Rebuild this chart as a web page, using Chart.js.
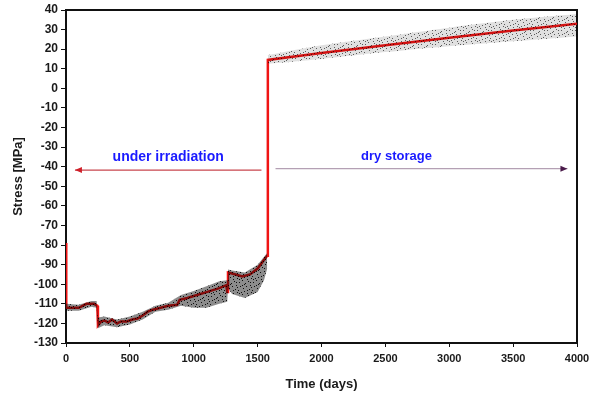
<!DOCTYPE html>
<html>
<head>
<meta charset="utf-8">
<script src="https://cdn.jsdelivr.net/npm/chart.js@4/dist/chart.umd.min.js"></script>
<style>
  html, body { margin: 0; padding: 0; background: #fff; }
  #wrap { width: 590px; height: 396px; }
</style>
</head>
<body>
<div id="wrap"><canvas id="stress-chart" width="590" height="396"></canvas></div>
<script>
// mean stress curve (days, MPa)
const redDays   = [0, 2, 100, 130, 160, 220, 245, 250, 275, 300, 330, 360, 400, 430, 475, 520, 560, 600, 640, 680, 740, 800, 870, 890, 950, 1000, 1100, 1200, 1255, 1262, 1268, 1300, 1380, 1440, 1500, 1545, 1575, 1580, 2000, 2500, 3000, 3500, 4000];
const redStress = [-79, -112, -112, -111, -110, -110, -111, -121, -119, -118.5, -119.5, -118, -120, -119, -119, -118, -117.5, -116, -114, -113, -112, -111, -110.5, -108, -107, -106, -104, -102, -100.5, -104, -94, -94.5, -96, -95, -92, -88, -85.5, 14.5, 18, 22, 25.8, 29.5, 33];

// spread of individual results during irradiation
const irrDays  = [0, 100, 200, 240, 250, 300, 400, 500, 600, 700, 800, 900, 1000, 1100, 1200, 1262, 1268, 1300, 1400, 1500, 1550, 1575];
const irrUpper = [-110, -110.5, -108.5, -108.5, -117, -116.5, -118, -116.5, -114, -111, -109.5, -105.5, -103.5, -101, -98.5, -98, -92.5, -93, -94, -90, -86, -84];
const irrLower = [-113.5, -113.5, -111.5, -112, -122.5, -121, -122, -120.5, -118, -114, -113, -111, -112, -112, -110, -109, -102, -105, -107, -104, -98, -92];

// spread of individual results in dry storage
const dryDays  = [1580, 2000, 2500, 3000, 3500, 4000];
const dryUpper = [17, 22, 26.5, 31, 35, 38];
const dryLower = [12.5, 15, 18.5, 21.5, 24, 26.5];

// phase arrows: label, start day, end day, level (MPa)
const phaseLabels = ['under irradiation', 'dry storage'];
const phaseFrom   = [1530, 1640];
const phaseTo     = [70, 3925];
const phaseLevel  = [-41.7, -41.0];

const xTicks = [0, 500, 1000, 1500, 2000, 2500, 3000, 3500, 4000];

const toPoints = (xs, ys) => xs.map((x, i) => ({ x: x, y: ys[i] }));

const ctx = document.getElementById('stress-chart').getContext('2d');

// small speckle tile used to texture the scatter bands
const speckleDots = [[1,2],[4,0],[7,3],[10,1],[12,5],[2,6],[5,8],[8,6],[11,9],[0,10],[3,12],[6,11],[9,13],[13,12],[6,4],[12,2],[1,13],[4,5],[9,10],[13,7]];
function speckle(base, dotColor) {
    const c = document.createElement('canvas');
    c.width = 14; c.height = 14;
    const g = c.getContext('2d');
    if (base) { g.fillStyle = base; g.fillRect(0, 0, 14, 14); }
    g.fillStyle = dotColor;
    speckleDots.forEach(function (d) { g.fillRect(d[0], d[1], 1, 1); });
    return ctx.createPattern(c, 'repeat');
}

const phaseArrows = {
    id: 'phaseArrows',
    beforeDatasetsDraw(chart) {
        // frame round the plot area, under the curves
        const a = chart.chartArea;
        const c = chart.ctx;
        c.save();
        c.strokeStyle = '#111';
        c.lineWidth = 2;
        c.strokeRect(a.left, a.top, a.right - a.left, a.bottom - a.top);
        c.restore();
    },
    afterDatasetsDraw(chart) {
        const xs = chart.scales.x, ys = chart.scales.y;
        const c = chart.ctx;
        const lineColors = ['#c8464e', '#b4a0b4'];
        const headColors = ['#d0202a', '#4a1a4a'];
        const sizes = [14, 13];
        const shift = [0, -25];
        c.save();
        phaseLabels.forEach(function (label, i) {
            const x1 = xs.getPixelForValue(phaseFrom[i]);
            const x2 = xs.getPixelForValue(phaseTo[i]);
            const y = ys.getPixelForValue(phaseLevel[i]);
            c.strokeStyle = lineColors[i];
            c.lineWidth = 1.2;
            c.beginPath(); c.moveTo(x1, y); c.lineTo(x2, y); c.stroke();
            const dir = x2 > x1 ? 1 : -1;
            c.fillStyle = headColors[i];
            c.beginPath();
            c.moveTo(x2, y);
            c.lineTo(x2 - dir * 7, y - 3);
            c.lineTo(x2 - dir * 7, y + 3);
            c.closePath(); c.fill();
            c.fillStyle = '#1a1aff';
            c.font = 'bold ' + sizes[i] + 'px "Liberation Sans", Arial, sans-serif';
            c.textAlign = 'center';
            c.textBaseline = 'alphabetic';
            c.fillText(label, (x1 + x2) / 2 + shift[i], y - 9);
        });
        c.restore();
    }
};

const fontTick = { family: '"Liberation Sans", Arial, sans-serif', size: 11, weight: 'bold' };
const fontTickY = { family: '"Liberation Sans", Arial, sans-serif', size: 12, weight: 'bold' };
const fontTitle = { family: '"Liberation Sans", Arial, sans-serif', size: 13, weight: 'bold' };

new Chart(ctx, {
    type: 'line',
    data: {
        datasets: [
            { data: toPoints(irrDays, irrLower), borderWidth: 0, pointRadius: 0, fill: false, tension: 0 },
            { data: toPoints(irrDays, irrUpper), borderWidth: 0, pointRadius: 0, fill: '-1', tension: 0,
              backgroundColor: speckle('rgba(0,0,0,0.45)', 'rgba(0,0,0,0.9)') },
            { data: toPoints(dryDays, dryLower), borderWidth: 0, pointRadius: 0, fill: false, tension: 0.3 },
            { data: toPoints(dryDays, dryUpper), borderWidth: 0, pointRadius: 0, fill: '-1', tension: 0.3,
              backgroundColor: speckle('rgba(0,0,0,0.12)', 'rgba(0,0,0,0.6)') },
            { data: toPoints(redDays, redStress), borderColor: '#f01414', borderWidth: 2.5,
              pointRadius: 0, fill: false, tension: 0 }
        ]
    },
    options: {
        responsive: false,
        animation: false,
        layout: { padding: { top: 10, right: 13, left: 0, bottom: 0 } },
        plugins: { legend: { display: false }, tooltip: { enabled: false } },
        scales: {
            x: {
                type: 'linear', min: 0, max: 4000,
                afterBuildTicks: function (s) { s.ticks = xTicks.map(v => ({ value: v })); },
                afterFit: function (s) { s.height = 53; s.paddingLeft = 0; s.paddingRight = 0; },
                grid: { drawOnChartArea: false, drawTicks: true, tickLength: 4, color: '#111' },
                border: { color: '#111', width: 2 },
                ticks: { color: '#1a1a1a', font: fontTick, padding: 5, maxRotation: 0,
                         callback: v => String(v) },
                title: { display: true, text: 'Time (days)', color: '#1a1a1a', font: fontTitle, padding: { top: 4 } }
            },
            y: {
                min: -130, max: 40,
                ticks: { stepSize: 10, color: '#1a1a1a', font: fontTickY, padding: 3 },
                afterFit: function (s) { s.width = 66; s.paddingTop = 0; s.paddingBottom = 0; },
                grid: { drawOnChartArea: false, drawTicks: true, tickLength: 5, color: '#111' },
                border: { color: '#111', width: 2 },
                title: { display: true, text: 'Stress [MPa]', color: '#1a1a1a', font: fontTitle, padding: { top: 11, bottom: 0 } }
            }
        }
    },
    plugins: [phaseArrows]
});
</script>
</body>
</html>
